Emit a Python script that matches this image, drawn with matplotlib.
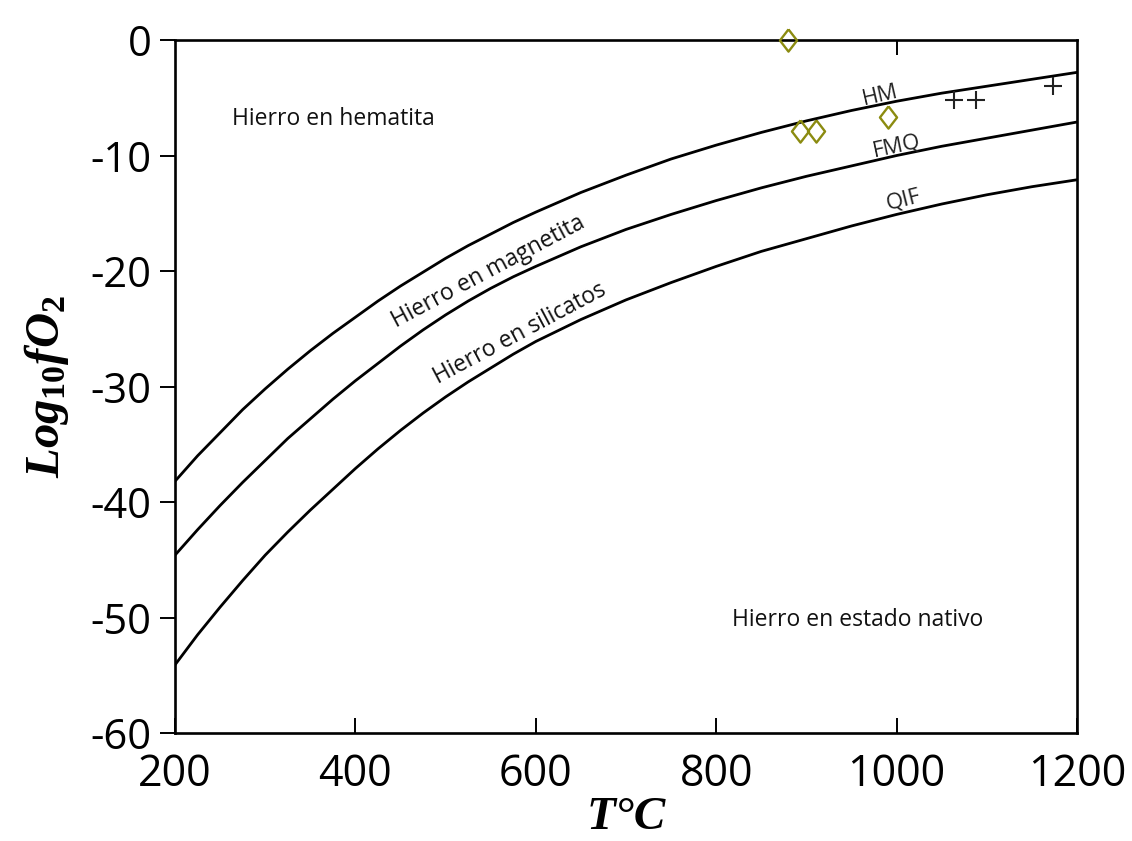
import numpy as np
import matplotlib
matplotlib.use('Agg')
import matplotlib.pyplot as plt

# temperature grid (deg C) and buffer curves log10 fO2
temp_c = [200, 225, 250, 275, 300, 325, 350, 375, 400, 425, 450, 475, 500,
          525, 550, 575, 600, 650, 700, 750, 800, 850, 900, 950, 1000,
          1050, 1100, 1150, 1200]
hm = [-38.2, -36.0, -34.0, -32.0, -30.2, -28.5, -26.9, -25.4, -24.0, -22.6, -21.3, -20.1, -18.9,
      -17.8, -16.8, -15.8, -14.9, -13.2, -11.7, -10.3, -9.1, -8.0, -7.0, -6.1, -5.3,
      -4.6, -4.0, -3.4, -2.8]
fmq = [-44.6, -42.4, -40.3, -38.3, -36.4, -34.5, -32.8, -31.1, -29.5, -28.0, -26.5, -25.1, -23.8,
       -22.6, -21.5, -20.5, -19.6, -17.9, -16.4, -15.1, -13.9, -12.8, -11.8, -10.9, -10.0,
       -9.2, -8.5, -7.8, -7.1]
qif = [-54.1, -51.5, -49.1, -46.8, -44.6, -42.6, -40.7, -38.9, -37.1, -35.4, -33.8, -32.3, -30.9,
       -29.6, -28.4, -27.2, -26.1, -24.2, -22.5, -21.0, -19.6, -18.3, -17.2, -16.1, -15.1,
       -14.2, -13.4, -12.7, -12.1]

# samples
diamond_t = [880, 893, 911, 990]
diamond_fo2 = [0.0, -7.85, -7.9, -6.7]
cross_t = [1064, 1088, 1173]
cross_fo2 = [-5.2, -5.2, -4.0]

plt.rcParams['mathtext.fontset'] = 'custom'
plt.rcParams['mathtext.it'] = 'Liberation Serif:bold:italic'
plt.rcParams['mathtext.rm'] = 'Liberation Serif:bold'

fig = plt.figure(figsize=(11.32, 8.41), dpi=100)
ax = fig.add_axes([0.1546, 0.1284, 0.7968, 0.824])

for curve in (hm, fmq, qif):
    ax.plot(temp_c, curve, color='black', lw=2.0, solid_joinstyle='round')

diamond = [(0, 1), (0.77, 0), (0, -1), (-0.77, 0), (0, 1)]
ax.plot(diamond_t, diamond_fo2, ls='none', marker=diamond, ms=16,
        mfc='none', mec='#8b8b10', mew=1.7, clip_on=False, zorder=5)
ax.plot(cross_t, cross_fo2, ls='none', marker='+', ms=13,
        mec='#222222', mew=1.5, zorder=5)

ax.set_xlim(200, 1200)
ax.set_ylim(-60, 0)
ax.set_xticks([200, 400, 600, 800, 1000, 1200])
ax.set_yticks([0, -10, -20, -30, -40, -50, -60])
ax.set_yticklabels(['0', '-10', '-20', '-30', '-40', '-50', '-60'])

for side in ax.spines.values():
    side.set_linewidth(1.9)

ax.tick_params(axis='y', direction='out', length=11, width=1.4, pad=6)
ax.tick_params(axis='x', direction='in', length=11, width=1.4, pad=14)
for lab in ax.get_yticklabels():
    lab.set_fontfamily('Open Sans')
    lab.set_fontsize(30)
for lab in ax.get_xticklabels():
    lab.set_fontfamily('Open Sans')
    lab.set_fontsize(31)

top = ax.secondary_xaxis('top')
top.set_xticks([1000])
top.set_xticklabels([''])
top.tick_params(direction='in', length=11, width=1.4)
top.spines['top'].set_visible(False)

ax.set_xlabel('T°C', family='Liberation Serif', weight='bold', style='italic',
              fontsize=34, labelpad=0)
ax.set_ylabel(r'$Log_{10}fO_2$', fontsize=35, labelpad=14)

txt = dict(family='Open Sans', fontsize=16.5, color='#111111')
ax.text(263, -6.8, 'Hierro en hematita', ha='left', va='center', **txt)
ax.text(817, -50.2, 'Hierro en estado nativo', ha='left', va='center', **txt)
ax.text(547, -20.1, 'Hierro en magnetita', ha='center', va='center',
        rotation=28, rotation_mode='anchor', **txt)
ax.text(582, -25.4, 'Hierro en silicatos', ha='center', va='center',
        rotation=28, rotation_mode='anchor', **txt)

buf = dict(family='Open Sans', fontsize=16, color='#222222',
           ha='center', va='center', rotation_mode='anchor')
ax.text(982, -4.85, 'HM', rotation=13, **buf)
ax.text(1000, -9.2, 'FMQ', rotation=12, **buf)
ax.text(1007, -13.85, 'QIF', rotation=14, **buf)

fig.savefig('out.png', dpi=100)
